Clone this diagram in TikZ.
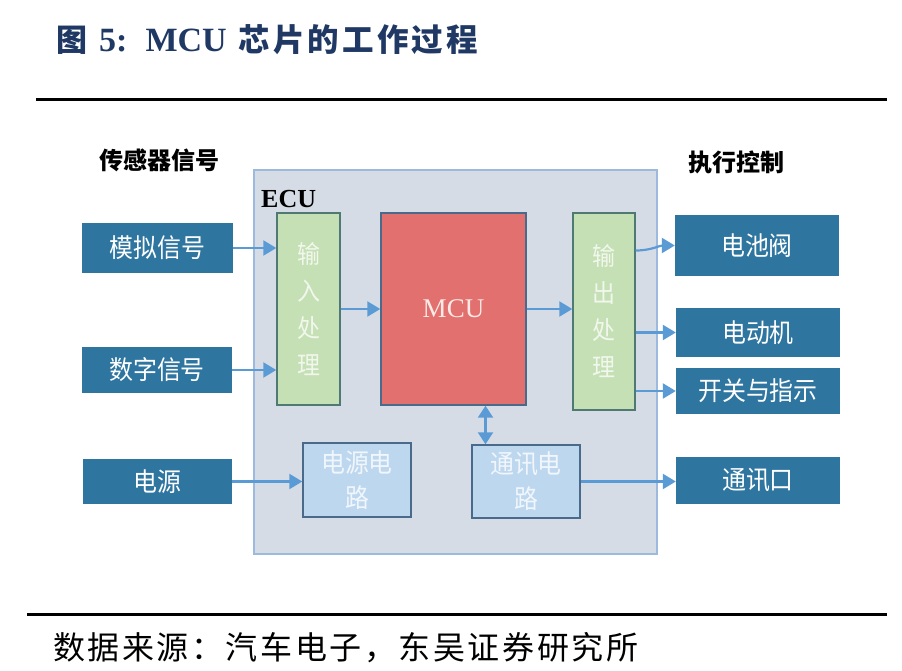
\documentclass[tikz,border=0pt]{standalone}
\usepackage{fontspec}
\setmainfont{Liberation Serif}
\newfontfamily\cjk{Noto Sans CJK SC}
\newfontfamily\cjkt{Noto Sans CJK SC}[LetterSpace=10]
\newfontfamily\cjkf{Noto Sans CJK SC}[LetterSpace=8]
\newfontfamily\yh{Noto Sans CJK SC}[FakeStretch=0.92]
\usetikzlibrary{arrows.meta,calc}
\definecolor{sigblue}{HTML}{2E75A0}
\definecolor{ecufill}{HTML}{D6DCE5}
\definecolor{eculine}{HTML}{9DB9DD}
\definecolor{greenfill}{HTML}{C5E0B4}
\definecolor{greenline}{HTML}{4F7A73}
\definecolor{redfill}{HTML}{E2706E}
\definecolor{boxline}{HTML}{4A6A8C}
\definecolor{lbfill}{HTML}{BDD7EE}
\definecolor{arrowc}{HTML}{5B9BD5}
\definecolor{titlec}{HTML}{1F3864}
\definecolor{greentext}{HTML}{F1F7ED}
\definecolor{lbtext}{HTML}{F1F6FC}
\definecolor{mcutext}{HTML}{FBEAE6}
\tikzset{
  sigbox/.style={fill=sigblue, text=white, font=\yh\fontsize{26}{30}\selectfont, inner sep=0pt},
  procbox/.style={draw=greenline, line width=1.4pt, fill=greenfill, text=greentext, align=center,
    font=\yh\fontsize{25}{37}\selectfont, inner sep=0pt},
  mcubox/.style={draw=boxline, line width=1.4pt, fill=redfill, text=mcutext, inner sep=0pt,
    font=\fontsize{27}{30}\selectfont},
  circbox/.style={draw=boxline, line width=1.4pt, fill=lbfill, text=lbtext, align=center,
    font=\yh\fontsize{26}{35}\selectfont, inner sep=0pt},
  conn/.style={draw=arrowc, line width=2.2pt, -{Triangle[width=15pt,length=13pt]}},
  conn2/.style={draw=arrowc, line width=2.2pt, {Triangle[width=15pt,length=12pt]}-{Triangle[width=15pt,length=12pt]}},
  rule/.style={line width=3pt, black},
  head/.style={font=\cjk\bfseries\fontsize{24}{28}\selectfont, inner sep=0pt}
}
\begin{document}
\begin{tikzpicture}[x=1pt,y=-1pt]
\useasboundingbox (0,0) rectangle (902,671);
\fill[white] (0,0) rectangle (902,671);
% title
\node[anchor=west, inner sep=0pt, text=titlec] (title) at (56,40)
  {{\cjk\bfseries\fontsize{31}{36}\selectfont 图}\hspace{12pt}{\bfseries\fontsize{34}{36}\selectfont 5:}\hspace{18pt}{\bfseries\fontsize{34}{36}\selectfont MCU}\hspace{12pt}{\cjkt\bfseries\fontsize{31.5}{36}\selectfont 芯片的工作过程}};
\draw[rule] (36,100) -- (887,100);
\draw[rule] (27,614) -- (887,614);
\node[anchor=west, inner sep=0pt] (src) at (53,648) {\cjkf\fontsize{32}{36}\selectfont 数据来源：汽车电子，东吴证券研究所};
% headings
\node[head] (lh) at (159,160) {传感器信号};
\node[head] (rh) at (736,162) {执行控制};
% ECU
\node[draw=eculine, line width=1.4pt, fill=ecufill, minimum width=403pt, minimum height=384pt, inner sep=0pt] (ecu) at (455.5,362) {};
\node[anchor=west, inner sep=0pt, font=\bfseries\fontsize{26}{30}\selectfont] (ecul) at (261,199) {ECU};
% left inputs
\node[sigbox, minimum width=151pt, minimum height=50pt] (sig1) at (157.5,248) {模拟信号};
\node[sigbox, minimum width=150pt, minimum height=46pt] (sig2) at (157,370) {数字信号};
\node[sigbox, minimum width=149pt, minimum height=45pt] (pwr) at (157.5,481.5) {电源};
% right outputs
\node[sigbox, minimum width=164pt, minimum height=61pt] (bat) at (757,245.5) {电池阀};
\node[sigbox, minimum width=164pt, minimum height=49pt] (mot) at (758,332.5) {电动机};
\node[sigbox, minimum width=164pt, minimum height=46pt] (sw) at (758,391) {开关与指示};
\node[sigbox, minimum width=164pt, minimum height=47pt] (com) at (758,480.5) {通讯口};
% inner blocks
\node[procbox, minimum width=63pt, minimum height=192pt] (inp) at (308.5,309) {输\\入\\处\\理};
\node[mcubox, minimum width=145pt, minimum height=192pt] (mcu) at (453.5,309) {MCU};
\node[procbox, minimum width=62pt, minimum height=197pt] (outp) at (604,311.5) {输\\出\\处\\理};
\node[circbox, minimum width=108pt, minimum height=74pt] (pc) at (357,480) {电源电\\路};
\node[circbox, minimum width=108pt, minimum height=73pt] (cc) at (526,481.5) {通讯电\\路};
% connectors
\draw[conn] (sig1.east) -- (sig1.east -| inp.west);
\draw[conn] (sig2.east) -- (sig2.east -| inp.west);
\draw[conn] (inp.east) -- (inp.east -| mcu.west);
\draw[conn] (mcu.east) -- (mcu.east -| outp.west);
\draw[conn] ([yshift=-5pt]outp.east |- bat.west) to[out=0,in=180] (bat.west);
\draw[conn] (outp.east |- mot.west) -- (mot.west);
\draw[conn] (outp.east |- sw.west) -- (sw.west);
\draw[conn] (pwr.east) -- (pwr.east -| pc.west);
\draw[conn] (cc.east) -- (cc.east -| com.west);
\draw[conn2] ([xshift=32pt]mcu.south) -- ([xshift=32pt]mcu.south |- cc.north);
\end{tikzpicture}
\end{document}
